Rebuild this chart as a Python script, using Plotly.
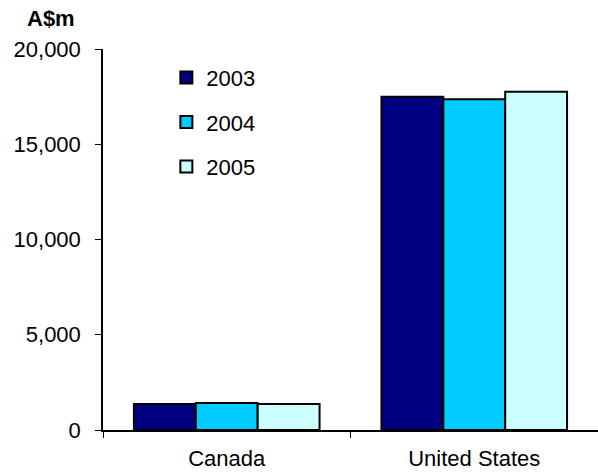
import plotly.graph_objects as go

categories = ["Canada", "United States"]
years = ["2003", "2004", "2005"]
values_2003 = [1360, 17500]
values_2004 = [1420, 17360]
values_2005 = [1370, 17760]
colors = ["#000080", "#00CCFF", "#CCFFFF"]
y_ticks = [0, 5000, 10000, 15000, 20000]
y_tick_labels = ["0", "5,000", "10,000", "15,000", "20,000"]

fig = go.Figure()
for i, (yr, vals) in enumerate(zip(years, [values_2003, values_2004, values_2005])):
    fig.add_trace(go.Bar(
        x=categories, y=vals, name=yr, legendgroup=yr,
        marker=dict(color=colors[i], line=dict(color="black", width=2)),
    ))

fig.update_layout(
    width=598, height=474,
    margin=dict(l=103, r=0, t=49, b=44),
    paper_bgcolor="white", plot_bgcolor="white",
    barmode="group", bargap=0.25, bargroupgap=0,
    font=dict(family="Liberation Sans, Arial", size=22, color="black"),
    showlegend=True,
    legend=dict(x=0.128, y=0.98, xanchor="left", yanchor="top",
                font=dict(size=22), tracegroupgap=13,
                itemwidth=30, bgcolor="rgba(0,0,0,0)"),
    xaxis=dict(showline=True, linecolor="black", linewidth=1.5,
               ticks="outside", tickson="boundaries", ticklen=6,
               tickcolor="black", showgrid=False, ticklabelstandoff=8),
    yaxis=dict(range=[0, 20000], tickvals=y_ticks, ticktext=y_tick_labels,
               showline=True, linecolor="black", linewidth=1.5,
               ticks="outside", ticklen=6, tickcolor="black",
               showgrid=False, zeroline=False, ticklabelstandoff=10),
    annotations=[dict(text="<b>A$m</b>", x=-0.105, y=1.081, xref="paper", yref="paper",
                      xanchor="center", yanchor="middle", showarrow=False)],
)
fig.write_html("out.html", config={"displayModeBar": False},
               post_script="document.body.style.margin='0';")
